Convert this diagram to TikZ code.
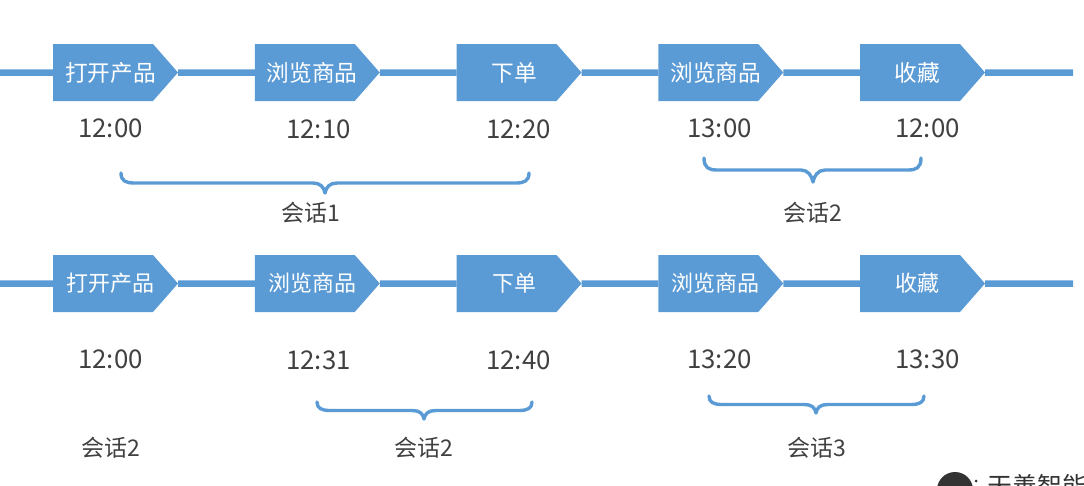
\documentclass[tikz,border=0pt]{standalone}
\usepackage{fontspec}
\setmainfont{Noto Sans CJK SC}
\usetikzlibrary{positioning,shapes.symbols,backgrounds}
\definecolor{stepblue}{HTML}{5B9BD5}
\definecolor{timegray}{HTML}{404040}
\newcommand{\sessbrace}[5]{\draw[bracket] (#1,#2) .. controls +(0,-#5+2) and +(-8,0) .. (#1+13,#2-#5) -- (#3-12,#2-#5) .. controls +(7,0) and +(-1,6) .. (#3,#2-2*#5) .. controls +(1,6) and +(-7,0) .. (#3+12,#2-#5) -- (#4-13,#2-#5) .. controls +(8,0) and +(0,-#5+2) .. (#4,#2);}

\begin{document}
\begin{tikzpicture}[
  x=1pt, y=1pt,
  action/.style={signal, signal to=east, signal pointer angle=97.5, fill=stepblue, text=white, minimum width=125pt, minimum height=57pt, inner sep=0pt, outer sep=0pt, font=\fontsize{22.7}{27}\selectfont, execute at begin node=\hspace*{7.5pt}, execute at end node=\hspace*{-7.5pt}},
  actionb/.style={action, font=\fontsize{22}{26}\selectfont},
  clock/.style={text=timegray, inner sep=0pt, font=\fontsize{25.8}{30}\selectfont},
  session/.style={text=timegray, inner sep=0pt, font=\fontsize{23}{27}\selectfont},
  flow/.style={draw=stepblue, line width=6.5pt},
  bracket/.style={draw=stepblue, line width=3.4pt, line cap=round, line join=round}
]
\useasboundingbox (0,0) rectangle (1084,-485);

% first row
\coordinate (start1) at (0,-72.5);
\coordinate (end1) at (1073,-72.5);
\node[action, anchor=west] (open1) at (53,-72.5) {打开产品};
\node[action, right=76.75pt of open1] (view1) {浏览商品};
\node[action, right=76.75pt of view1] (order1) {下单};
\node[action, right=76.75pt of order1] (again1) {浏览商品};
\node[action, right=76.75pt of again1] (fav1) {收藏};
\begin{pgfonlayer}{background}
\draw[flow] (start1) -- (open1) -- (view1) -- (order1) -- (again1) -- (fav1) -- (end1);
\end{pgfonlayer}

\node[clock] (t11) at (110.5,-128) {12:00};
\node[clock] (t12) at (318.5,-129) {12:10};
\node[clock] (t13) at (518.5,-129) {12:20};
\node[clock] (t14) at (719.5,-128) {13:00};
\node[clock] (t15) at (927.5,-128) {12:00};

\sessbrace{121}{-173}{325}{529}{10}
\sessbrace{704}{-158}{813}{921}{12}
\node[session] (s11) at (311,-213) {会话1};
\node[session] (s12) at (813,-213) {会话2};

% second row
\coordinate (start2) at (0,-283.5);
\coordinate (end2) at (1073,-283.5);
\node[actionb, anchor=west] (open2) at (53,-283.5) {打开产品};
\node[actionb, right=76.75pt of open2] (view2) {浏览商品};
\node[actionb, right=76.75pt of view2] (order2) {下单};
\node[actionb, right=76.75pt of order2] (again2) {浏览商品};
\node[actionb, right=76.75pt of again2] (fav2) {收藏};
\begin{pgfonlayer}{background}
\draw[flow] (start2) -- (open2) -- (view2) -- (order2) -- (again2) -- (fav2) -- (end2);
\end{pgfonlayer}

\node[clock] (t21) at (110.5,-359) {12:00};
\node[clock] (t22) at (318.5,-360) {12:31};
\node[clock] (t23) at (518.5,-360) {12:40};
\node[clock] (t24) at (719.5,-359) {13:20};
\node[clock] (t25) at (927.5,-359) {13:30};

\sessbrace{317}{-402}{424}{532}{8.5}
\sessbrace{709}{-396}{816}{924}{8.5}
\node[session] (s21) at (110.5,-448) {会话2};
\node[session] (s22) at (424,-448) {会话2};
\node[session] (s23) at (816.5,-448) {会话3};

% logo, cut off by the page edge
\fill[black!80] (955,-490) circle (18pt);
\fill[black!80] (976,-481) circle (1.5pt);
\node[anchor=north west, inner sep=0pt, font=\fontsize{25}{30}\selectfont, text=black!80] (brand) at (987,-474) {天善智能};
\end{tikzpicture}
\end{document}
